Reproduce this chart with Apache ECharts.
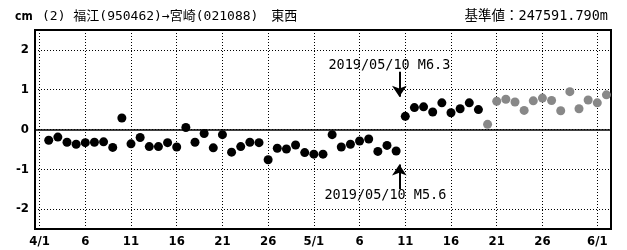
<!DOCTYPE html>
<html>
<head>
<meta charset="utf-8">
<script src="https://cdn.jsdelivr.net/npm/echarts@6/dist/echarts.min.js"></script>
<style>
  html, body { margin: 0; padding: 0; background: #fff; }
  #chart { width: 627px; height: 250px; }
</style>
</head>
<body>
<div id="chart"></div>
<script>
// x ticks: day index counted from 4/1
const tickDays = [0, 5, 10, 15, 20, 25, 30, 35, 40, 45, 50, 55, 61];
const tickLabels = ['4/1', '6', '11', '16', '21', '26', '5/1', '6', '11', '16', '21', '26', '6/1'];
const yTicks = [-2, -1, 0, 1, 2];

// daily values in cm (black from 4/2, gray from 5/20)
const blackStart = 1;
const blackValues = [
  -0.27, -0.19, -0.32, -0.37, -0.33, -0.32, -0.31, -0.45, 0.29, -0.36,
  -0.20, -0.43, -0.43, -0.33, -0.44, 0.05, -0.32, -0.10, -0.46, -0.13,
  -0.57, -0.43, -0.32, -0.33, -0.76, -0.47, -0.49, -0.39, -0.58, -0.62,
  -0.62, -0.13, -0.44, -0.37, -0.29, -0.24, -0.55, -0.40, -0.54, 0.33,
  0.55, 0.57, 0.44, 0.67, 0.42, 0.52, 0.67, 0.50
];
const grayStart = 49;
const grayValues = [0.13, 0.71, 0.76, 0.69, 0.48, 0.72, 0.79, 0.73, 0.47, 0.95, 0.52, 0.74, 0.67, 0.87];

// earthquake marker (5/10)
const quakeDay = 39.35;
const quakeTop = { label: '2019/05/10 M6.3', from: 1.45, to: 0.82 };
const quakeBottom = { label: '2019/05/10 M5.6', from: -1.5, to: -0.88 };

const monoFont = "'DejaVu Sans Mono', 'Noto Sans CJK JP', monospace";
const labelFont = "'Liberation Sans Narrow', 'DejaVu Sans Condensed', sans-serif";

const myChart = echarts.init(document.getElementById('chart'));

myChart.setOption({
  animation: false,
  title: [
    { text: 'cm', left: 15, top: 11, padding: 0,
      textStyle: { fontSize: 12, fontWeight: 'bold', color: '#000', fontFamily: labelFont } },
    { text: '(2) 福江(950462)→宮崎(021088)　東西', left: 42, top: 10, padding: 0,
      textStyle: { fontSize: 13, fontWeight: 'normal', color: '#000', fontFamily: monoFont } },
    { text: '基準値：247591.790m', right: 19, top: 10, padding: 0,
      textStyle: { fontSize: 13.5, fontWeight: 'normal', color: '#000', fontFamily: monoFont } }
  ],
  grid: {
    left: 35, right: 16, top: 30, bottom: 21,
    show: true, borderColor: '#000', borderWidth: 2
  },
  xAxis: {
    type: 'value',
    min: -0.5,
    max: 62.5,
    axisLine: { show: false },
    axisTick: { show: false, customValues: tickDays },
    axisLabel: {
      customValues: tickDays,
      formatter: v => tickLabels[tickDays.indexOf(v)],
      color: '#000', fontSize: 13, fontWeight: 'bold', fontFamily: labelFont, margin: 6
    },
    splitLine: { show: true, lineStyle: { color: '#000', type: [1, 2], width: 1 } }
  },
  yAxis: {
    type: 'value',
    min: -2.5,
    max: 2.5,
    axisLine: { show: false },
    axisTick: { show: false, customValues: yTicks },
    axisLabel: {
      customValues: yTicks,
      color: '#000', fontSize: 13, fontWeight: 'bold', fontFamily: labelFont, margin: 6
    },
    splitLine: { show: true, lineStyle: { color: '#000', type: [1, 2], width: 1 } }
  },
  series: [
    {
      type: 'scatter',
      symbolSize: 9,
      itemStyle: { color: '#000', opacity: 1 },
      data: blackValues.map((v, i) => [blackStart + i, v]),
      markLine: {
        silent: true,
        symbol: ['none', 'arrow'],
        symbolSize: 11,
        lineStyle: { color: '#000', width: 2, type: 'solid' },
        label: {
          show: true, position: 'start', distance: 0,
          color: '#000', fontSize: 13.5, fontFamily: monoFont
        },
        data: [
          [
            { coord: [quakeDay, quakeTop.from], label: { formatter: quakeTop.label, offset: [-10, 0] } },
            { coord: [quakeDay, quakeTop.to] }
          ],
          [
            { coord: [quakeDay, quakeBottom.from], label: { formatter: quakeBottom.label, offset: [-14, 0] } },
            { coord: [quakeDay, quakeBottom.to] }
          ]
        ]
      }
    },
    {
      type: 'scatter',
      symbolSize: 9,
      itemStyle: { color: '#888', opacity: 1 },
      data: grayValues.map((v, i) => [grayStart + i, v]),
      markLine: {
        silent: true,
        symbol: 'none',
        label: { show: false },
        lineStyle: { color: '#000', width: 1.5, type: 'solid' },
        data: [{ yAxis: 0 }]
      }
    }
  ]
});
</script>
</body>
</html>
